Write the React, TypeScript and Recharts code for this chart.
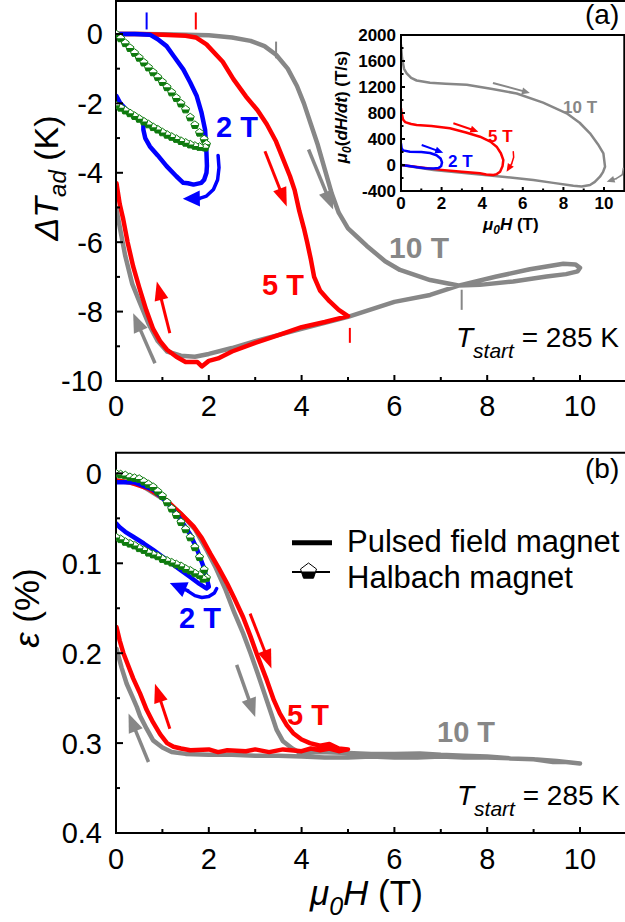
import React from "react";
import {
  ComposedChart,
  Line,
  Scatter,
  XAxis,
  YAxis,
  ReferenceLine,
  ReferenceArea,
} from "recharts";

const FONT = "'Liberation Sans', Arial, Helvetica, sans-serif";
const RED = "#ff0000";
const BLUE = "#0000ff";
const GRAY = "#878787";
const GREEN = "#0d7a0d";

// ---- axes ----
const FIELD_TICKS = [0, 1, 2, 3, 4, 5, 6, 7, 8, 9, 10];
const FIELD_LABELS = [0, 2, 4, 6, 8, 10];
const DT_TICKS = [-10, -9, -8, -7, -6, -5, -4, -3, -2, -1, 0];
const DT_LABELS = [-10, -8, -6, -4, -2, 0];
const STRAIN_TICKS = [0, 0.05, 0.1, 0.15, 0.2, 0.25, 0.3, 0.35, 0.4];
const STRAIN_LABELS = [0, 0.1, 0.2, 0.3, 0.4];
const RATE_TICKS = [-400, -200, 0, 200, 400, 600, 800, 1000, 1200, 1400, 1600, 1800, 2000];
const RATE_LABELS = [-400, 0, 400, 800, 1200, 1600, 2000];

// ---- panel (a): adiabatic temperature change, [field T, dT K] ----
const pulsed10A = [
  [0, 0], [0.5, 0], [1, -0.01], [1.5, -0.02], [2, -0.04], [2.5, -0.1], [2.9, -0.2],
  [3.2, -0.35], [3.45, -0.6], [3.7, -1.0], [3.9, -1.5], [4.05, -2.0], [4.2, -2.6],
  [4.35, -3.2], [4.5, -3.9], [4.65, -4.6], [4.8, -5.15], [5.0, -5.6], [5.2, -5.85],
  [5.4, -6.1], [5.8, -6.55], [6.12, -6.8], [6.77, -7.09], [7.38, -7.25], [7.84, -7.23],
  [8.56, -7.13], [9.28, -6.99], [9.7, -6.92], [9.95, -6.84], [10, -6.74], [9.9, -6.64],
  [9.64, -6.62], [8.92, -6.78], [8.2, -6.99], [7.38, -7.25], [6.77, -7.52], [6.0, -7.72],
  [5.0, -8.15], [4.0, -8.5], [3.0, -8.85], [2.5, -9.05], [2.0, -9.22], [1.7, -9.3],
  [1.4, -9.27], [1.1, -9.15], [0.9, -8.85], [0.7, -8.35], [0.5, -7.7], [0.35, -7.2],
  [0.2, -6.4], [0.1, -5.7], [0.03, -5.2], [0, -5.0],
];
const pulsed5A = [
  [0, 0], [0.5, 0], [1, -0.02], [1.5, -0.05], [1.72, -0.1], [1.95, -0.3], [2.3, -0.8],
  [2.53, -1.3], [2.8, -1.8], [3.05, -2.2], [3.25, -2.6], [3.45, -3.1], [3.6, -3.6],
  [3.75, -4.1], [3.85, -4.5], [3.95, -5.1], [4.05, -5.6], [4.12, -6.0], [4.2, -6.5],
  [4.27, -7.0], [4.4, -7.4], [4.6, -7.7], [4.8, -7.95], [5.0, -8.13], [4.5, -8.3],
  [4.0, -8.45], [3.5, -8.68], [3.0, -8.9], [2.5, -9.15], [2.2, -9.35], [2.0, -9.42],
  [1.85, -9.58], [1.75, -9.45], [1.5, -9.45], [1.3, -9.3], [1.1, -9.1], [0.95, -8.85],
  [0.8, -8.5], [0.65, -7.95], [0.5, -7.3], [0.37, -6.7], [0.25, -6.0], [0.15, -5.3],
  [0.08, -4.9], [0.01, -4.3],
];
const pulsed2A = [
  [0, 0], [0.4, 0], [0.73, -0.02], [0.9, -0.15], [1.09, -0.35], [1.25, -0.65],
  [1.45, -1.02], [1.6, -1.4], [1.74, -1.79], [1.84, -2.25], [1.92, -2.76], [1.95, -3.43],
  [1.96, -3.8], [1.95, -4.0], [1.9, -4.2], [1.84, -4.29], [1.67, -4.34], [1.55, -4.3],
  [1.45, -4.29], [1.3, -4.1], [1.09, -3.81], [0.9, -3.5], [0.73, -3.24], [0.63, -3.0],
  [0.59, -2.76], [0.59, -2.5], [0.45, -2.42], [0.37, -2.37], [0.2, -2.15], [0.09, -1.99],
  [0.01, -1.79],
];
const halbachA = [
  [0, 0], [0.1, -0.12], [0.2, -0.26], [0.3, -0.4], [0.4, -0.54], [0.5, -0.68], [0.6, -0.82],
  [0.7, -0.96], [0.8, -1.1], [0.9, -1.24], [1.0, -1.38], [1.1, -1.53], [1.2, -1.68],
  [1.3, -1.84], [1.4, -2.0], [1.5, -2.17], [1.6, -2.4], [1.7, -2.62], [1.8, -2.84],
  [1.9, -3.03], [1.95, -3.17], [1.92, -3.27], [1.8, -3.25], [1.7, -3.22], [1.6, -3.18],
  [1.5, -3.13], [1.4, -3.08], [1.3, -3.02], [1.2, -2.96], [1.1, -2.9], [1.0, -2.83],
  [0.9, -2.75], [0.8, -2.68], [0.7, -2.6], [0.6, -2.52], [0.5, -2.44], [0.4, -2.36],
  [0.3, -2.28], [0.2, -2.2], [0.1, -2.12], [0, -2.05],
];

// ---- panel (b): strain, [field T, strain %] ----
const pulsed10B = [
  [0, 0.008], [0.5, 0.012], [1.0, 0.028], [1.4, 0.045], [1.7, 0.062], [1.95, 0.085],
  [2.15, 0.105], [2.35, 0.128], [2.55, 0.155], [2.74, 0.178], [2.9, 0.2], [3.05, 0.222],
  [3.2, 0.245], [3.35, 0.268], [3.46, 0.285], [3.6, 0.298], [3.8, 0.306], [3.97, 0.311],
  [4.4, 0.31], [5, 0.311], [5.5, 0.312], [6, 0.312], [6.55, 0.3115], [7, 0.313],
  [7.5, 0.314], [8, 0.315], [8.5, 0.317], [9, 0.318], [9.42, 0.321], [9.7, 0.321],
  [10, 0.3226], [9.5, 0.32], [9, 0.318], [8.5, 0.317], [8, 0.316], [7.5, 0.316],
  [7, 0.315], [6.5, 0.316], [6, 0.316], [5.5, 0.315], [5, 0.316], [4.5, 0.316],
  [4, 0.315], [3.5, 0.314], [3, 0.314], [2.5, 0.313], [2, 0.313], [1.5, 0.312],
  [1.2, 0.31], [1.0, 0.305], [0.8, 0.297], [0.66, 0.284], [0.52, 0.27], [0.45, 0.26],
  [0.35, 0.248], [0.23, 0.234], [0.12, 0.216], [0.01, 0.195],
];
const pulsed5B = [
  [0, 0.008], [0.3, 0.01], [0.7, 0.017], [1.09, 0.03], [1.4, 0.045], [1.67, 0.059],
  [1.85, 0.072], [2.03, 0.089], [2.2, 0.104], [2.39, 0.122], [2.55, 0.139], [2.74, 0.16],
  [2.89, 0.18], [3.05, 0.203], [3.25, 0.23], [3.4, 0.252], [3.53, 0.267], [3.68, 0.28],
  [3.82, 0.289], [4.0, 0.296], [4.18, 0.3], [4.4, 0.303], [4.6, 0.301], [4.8, 0.306],
  [5.0, 0.307], [4.8, 0.309], [4.6, 0.306], [4.4, 0.308], [4.2, 0.306], [4.0, 0.309],
  [3.6, 0.307], [3.3, 0.31], [3.0, 0.307], [2.8, 0.309], [2.4, 0.308], [2.2, 0.31],
  [2.0, 0.307], [1.6, 0.308], [1.4, 0.306], [1.24, 0.304], [1.1, 0.3], [0.95, 0.29],
  [0.8, 0.277], [0.66, 0.263], [0.52, 0.245], [0.37, 0.228], [0.25, 0.212], [0.16, 0.2],
  [0.08, 0.186], [0.01, 0.171],
];
const pulsed2B = [
  [0, 0.01], [0.4, 0.01], [0.8, 0.018], [1.1, 0.032], [1.4, 0.052], [1.6, 0.068],
  [1.75, 0.085], [1.88, 0.103], [1.96, 0.118], [2.0, 0.126], [1.95, 0.128], [1.8, 0.123],
  [1.59, 0.115], [1.35, 0.106], [1.09, 0.096], [0.8, 0.085], [0.6, 0.078], [0.37, 0.0705],
  [0.2, 0.065], [0.08, 0.06], [0.01, 0.056],
];
const halbachB = [
  [0, 0.0], [0.1, 0.001], [0.2, 0.002], [0.3, 0.004], [0.4, 0.005], [0.5, 0.006],
  [0.6, 0.009], [0.7, 0.012], [0.8, 0.015], [0.9, 0.02], [1.0, 0.025], [1.1, 0.032],
  [1.2, 0.039], [1.3, 0.046], [1.4, 0.054], [1.5, 0.062], [1.6, 0.071], [1.7, 0.082],
  [1.8, 0.093], [1.9, 0.107], [1.95, 0.116], [1.88, 0.117], [1.8, 0.113], [1.7, 0.111],
  [1.6, 0.108], [1.5, 0.106], [1.4, 0.103], [1.3, 0.101], [1.2, 0.099], [1.1, 0.097],
  [1.0, 0.095], [0.9, 0.092], [0.8, 0.09], [0.7, 0.088], [0.6, 0.085], [0.5, 0.083],
  [0.4, 0.08], [0.3, 0.078], [0.2, 0.076], [0.1, 0.073], [0, 0.071],
];

// ---- inset: sweep rate, [field T, dH/dt T/s] ----
const rate10 = [
  [0, 1850], [0.05, 1650], [0.15, 1480], [0.28, 1411], [0.5, 1340], [0.77, 1300],
  [1.43, 1265], [2.2, 1250], [3.24, 1235], [4.5, 1170], [5.7, 1100], [7, 960],
  [8.16, 795], [8.8, 650], [9.31, 488], [9.7, 320], [9.97, 180], [10.05, -26],
  [9.95, -110], [9.8, -180], [9.55, -260], [9.31, -308], [8.9, -330], [8.49, -320],
  [7.5, -275], [6.52, -231], [5, -180], [3.24, -128], [1.6, -77], [0.8, -40], [0, 0],
];
const rate5 = [
  [0, 870], [0.03, 800], [0.1, 700], [0.2, 660], [0.5, 630], [0.77, 615], [1.5, 600],
  [2.41, 565], [3.2, 500], [3.89, 435], [4.4, 360], [4.71, 282], [4.92, 180], [5.04, 77],
  [5.0, -20], [4.88, -103], [4.72, -140], [4.55, -154], [4.2, -145], [3.89, -128],
  [3, -105], [2, -75], [1, -40], [0, 0],
];
const rate2 = [
  [0, 330], [0.03, 260], [0.1, 225], [0.44, 205], [1.0, 200], [1.43, 185], [1.75, 150],
  [1.95, 100], [2.02, 40], [1.98, -15], [1.85, -45], [1.6, -55], [1.2, -50], [0.8, -35],
  [0.4, -15], [0, 0],
];

// ---- annotations: arrows [x1, y1, x2, y2], curved arrow paths, field-end marks [x, yTop, yBottom] ----
const redArrowsA = [[3.21, -3.38, 3.68, -4.97], [1.16, -8.62, 0.88, -7.13]];
const grayArrowsA = [[4.15, -3.33, 4.68, -5.06], [0.84, -9.49, 0.37, -8.05]];
const blueArcA = [[2.2, -3.5], [2.22, -3.85], [2.19, -4.2], [2.1, -4.48], [1.95, -4.67], [1.8, -4.74]];
const blueArcHeadA = [[1.82, -4.74, 1.44, -4.75]];
const blueMarksA = [[0.66, 0.62, 0.13]];
const redMarksA = [[1.72, 0.62, 0.13], [5.04, -8.47, -8.9]];
const grayMarksA = [[3.45, -0.22, -0.7], [7.45, -7.37, -7.95]];

const redArrowsB = [[2.89, 0.156, 3.35, 0.217], [1.16, 0.284, 0.84, 0.234]];
const grayArrowsB = [[2.6, 0.213, 3.0, 0.271], [0.7, 0.321, 0.27, 0.267]];
const blueArcB = [[2.17, 0.128], [2.12, 0.133], [2.0, 0.137], [1.85, 0.138], [1.7, 0.136], [1.55, 0.131]];
const blueArcHeadB = [[1.57, 0.131, 1.16, 0.122]];

const grayArrowsI = [[4.53, 1262, 6.35, 1108]];
const redArrowsI = [[2.58, 642, 3.81, 512]];
const blueArrowsI = [[1.02, 308, 2.08, 189]];
const redArcI = [[5.53, 205], [5.55, 120], [5.45, 20]];
const redArcHeadI = [[5.46, 25, 5.2, -103]];
const grayArcI = [[10.95, -52], [10.9, -150], [10.6, -210]];
const grayArcHeadI = [[10.62, -208, 10.13, -257]];

const toPts = (rows: number[][]) => rows.map(([x, y]) => ({ x, y }));

function fmtTick(v: number, decimals = 0) {
  if (Math.abs(v) < 1e-9) return "0";
  return decimals ? v.toFixed(decimals) : String(v);
}

// Inward tick marks with labels only on the major values.
function bottomTick(labels: number[], major: number, minor: number, size: number, dy: number, bold = false) {
  return (props: any) => {
    const { x, y, payload } = props;
    const v = payload.value;
    const isMajor = labels.some((l) => Math.abs(l - v) < 1e-9);
    return (
      <g>
        <line x1={x} x2={x} y1={y} y2={y - (isMajor ? major : minor)} stroke="#000" strokeWidth={2} />
        {isMajor && (
          <text x={x} y={y + dy} textAnchor="middle" fontSize={size} fontWeight={bold ? 700 : 400} fontFamily={FONT} fill="#000">
            {fmtTick(v)}
          </text>
        )}
      </g>
    );
  };
}

function leftTick(labels: number[], major: number, minor: number, size: number, dx: number, decimals = 0, bold = false) {
  return (props: any) => {
    const { x, y, payload } = props;
    const v = payload.value;
    const isMajor = labels.some((l) => Math.abs(l - v) < 1e-9);
    return (
      <g>
        <line x1={x} x2={x + (isMajor ? major : minor)} y1={y} y2={y} stroke="#000" strokeWidth={2} />
        {isMajor && (
          <text x={x - dx} y={y} dy="0.36em" textAnchor="end" fontSize={size} fontWeight={bold ? 700 : 400} fontFamily={FONT} fill="#000">
            {fmtTick(v, decimals)}
          </text>
        )}
      </g>
    );
  };
}

function arrowShape(color: string, shaft: number, headLen: number, headHalf: number) {
  return (p: any) => {
    const { x1, y1, x2, y2 } = p;
    const dx = x2 - x1;
    const dy = y2 - y1;
    const len = Math.hypot(dx, dy) || 1;
    const ux = dx / len;
    const uy = dy / len;
    const bx = x2 - ux * headLen;
    const by = y2 - uy * headLen;
    const px = -uy * headHalf;
    const py = ux * headHalf;
    return (
      <g>
        {len > headLen && <line x1={x1} y1={y1} x2={bx + ux} y2={by + uy} stroke={color} strokeWidth={shaft} />}
        <polygon points={`${x2},${y2} ${bx + px},${by + py} ${bx - px},${by - py}`} fill={color} />
      </g>
    );
  };
}

function halbachShape(s: number, color: string) {
  return (p: any) => {
    const { cx, cy } = p;
    if (cx == null || cy == null) return <g />;
    const outline = [[0, -s], [s, -0.25 * s], [0.62 * s, 0.9 * s], [-0.62 * s, 0.9 * s], [-s, -0.25 * s]];
    const lower = [[-0.93 * s, 0.05 * s], [0.93 * s, 0.05 * s], [0.62 * s, 0.9 * s], [-0.62 * s, 0.9 * s]];
    const str = (pts: number[][]) => pts.map(([a, b]) => `${cx + a},${cy + b}`).join(" ");
    return (
      <g>
        <polygon points={str(outline)} fill="#fff" stroke={color} strokeWidth={1} />
        <polygon points={str(lower)} fill={color} />
      </g>
    );
  };
}

function arrows(rows: number[][], color: string, shaft: number, headLen: number, headHalf: number, key: string) {
  return rows.map(([x1, y1, x2, y2], i) => (
    <ReferenceLine
      key={`${key}${i}`}
      segment={[{ x: x1, y: y1 }, { x: x2, y: y2 }]}
      stroke={color}
      ifOverflow="visible"
      shape={arrowShape(color, shaft, headLen, headHalf)}
    />
  ));
}

function marks(rows: number[][], color: string, key: string) {
  return rows.map(([x, y1, y2], i) => (
    <ReferenceLine
      key={`${key}${i}`}
      segment={[{ x, y: y1 }, { x, y: y2 }]}
      stroke={color}
      strokeWidth={2}
      ifOverflow="visible"
    />
  ));
}

function curve(rows: number[][], color: string, width: number, key: string) {
  return (
    <Line
      key={key}
      data={toPts(rows)}
      dataKey="y"
      type="linear"
      stroke={color}
      strokeWidth={width}
      strokeLinejoin="round"
      strokeLinecap="round"
      dot={false}
      activeDot={false}
      isAnimationActive={false}
    />
  );
}

function PanelA() {
  return (
    <ComposedChart width={640} height={430} margin={{ top: 1, right: 13.6, bottom: 9, left: 16 }}>
      <XAxis
        type="number"
        dataKey="x"
        domain={[0, 11]}
        ticks={FIELD_TICKS}
        interval={0}
        allowDataOverflow
        height={40}
        tickSize={0}
        tickMargin={0}
        tickLine={false}
        axisLine={{ stroke: "#000", strokeWidth: 2 }}
        tick={bottomTick(FIELD_LABELS, 6, 4, 29, 35)}
      />
      <YAxis
        type="number"
        domain={[-10, 0.95]}
        ticks={DT_TICKS}
        interval={0}
        allowDataOverflow
        width={100}
        tickSize={0}
        tickMargin={0}
        tickLine={false}
        axisLine={{ stroke: "#000", strokeWidth: 2 }}
        tick={leftTick(DT_LABELS, 7, 4, 29, 13)}
      />
      <ReferenceArea x1={0} x2={11} y1={-10} y2={0.95} fill="none" stroke="#000" strokeWidth={2} ifOverflow="visible" />
      {curve(pulsed10A, GRAY, 4.5, "g10")}
      {curve(pulsed5A, RED, 4.5, "r5")}
      {curve(pulsed2A, BLUE, 4.5, "b2")}
      <Scatter data={toPts(halbachA)} dataKey="y" shape={halbachShape(4, GREEN)} isAnimationActive={false} />
      {curve(blueArcA, BLUE, 3.5, "barc")}
      {arrows(blueArcHeadA, BLUE, 3.5, 17, 8, "bh")}
      {arrows(redArrowsA, RED, 3, 19, 7, "ra")}
      {arrows(grayArrowsA, GRAY, 3.5, 19, 7.5, "ga")}
      {marks(blueMarksA, BLUE, "bm")}
      {marks(redMarksA, RED, "rm")}
      {marks(grayMarksA, GRAY, "gm")}
    </ComposedChart>
  );
}

function PanelB() {
  return (
    <ComposedChart width={640} height={460} margin={{ top: 12.7, right: 13.6, bottom: 27, left: 16 }}>
      <XAxis
        type="number"
        dataKey="x"
        domain={[0, 11]}
        ticks={FIELD_TICKS}
        interval={0}
        allowDataOverflow
        height={40}
        tickSize={0}
        tickMargin={0}
        tickLine={false}
        axisLine={{ stroke: "#000", strokeWidth: 2 }}
        tick={bottomTick(FIELD_LABELS, 6, 4, 29, 36)}
      />
      <YAxis
        type="number"
        reversed
        domain={[-0.023, 0.4]}
        ticks={STRAIN_TICKS}
        interval={0}
        allowDataOverflow
        width={100}
        tickSize={0}
        tickMargin={0}
        tickLine={false}
        axisLine={{ stroke: "#000", strokeWidth: 2 }}
        tick={leftTick(STRAIN_LABELS, 7, 4, 29, 14, 1)}
      />
      <ReferenceArea x1={0} x2={11} y1={-0.023} y2={0.4} fill="none" stroke="#000" strokeWidth={2} ifOverflow="visible" />
      {curve(pulsed10B, GRAY, 4.5, "g10")}
      {curve(pulsed5B, RED, 4.5, "r5")}
      {curve(pulsed2B, BLUE, 4.5, "b2")}
      <Scatter data={toPts(halbachB)} dataKey="y" shape={halbachShape(4, GREEN)} isAnimationActive={false} />
      {curve(blueArcB, BLUE, 3.5, "barc")}
      {arrows(blueArcHeadB, BLUE, 3.5, 17, 8, "bh")}
      {arrows(redArrowsB, RED, 3, 19, 7, "ra")}
      {arrows(grayArrowsB, GRAY, 3.5, 19, 7.5, "ga")}
    </ComposedChart>
  );
}

function Inset() {
  return (
    <ComposedChart width={300} height={220} margin={{ top: 15, right: 15.7, bottom: 19, left: 11 }}>
      <XAxis
        type="number"
        dataKey="x"
        domain={[0, 11]}
        ticks={FIELD_TICKS}
        interval={0}
        allowDataOverflow
        height={30}
        tickSize={0}
        tickMargin={0}
        tickLine={false}
        axisLine={{ stroke: "#000", strokeWidth: 2 }}
        tick={bottomTick(FIELD_LABELS, 4, 2.5, 17, 18, true)}
      />
      <YAxis
        type="number"
        domain={[-400, 2000]}
        ticks={RATE_TICKS}
        interval={0}
        allowDataOverflow
        width={50}
        tickSize={0}
        tickMargin={0}
        tickLine={false}
        axisLine={{ stroke: "#000", strokeWidth: 2 }}
        tick={leftTick(RATE_LABELS, 4, 2.5, 17, 5, 0, true)}
      />
      <ReferenceArea x1={0} x2={11} y1={-400} y2={2000} fill="none" stroke="#000" strokeWidth={2} ifOverflow="visible" />
      {curve(rate10, GRAY, 2.5, "g10")}
      {curve(rate5, RED, 2.5, "r5")}
      {curve(rate2, BLUE, 2.5, "b2")}
      {curve(redArcI, RED, 1.5, "rarc")}
      {curve(grayArcI, GRAY, 1.5, "garc")}
      {arrows(redArcHeadI, RED, 1.5, 8, 3.5, "rah")}
      {arrows(grayArcHeadI, GRAY, 1.5, 8, 3.5, "gah")}
      {arrows(grayArrowsI, GRAY, 2, 8, 3.5, "gi")}
      {arrows(redArrowsI, RED, 2, 8, 3.5, "ri")}
      {arrows(blueArrowsI, BLUE, 2, 8, 3.5, "bi")}
    </ComposedChart>
  );
}

function TStart({ x, y }: { x: number; y: number }) {
  return (
    <text x={x} y={y} fontSize={28} fontFamily={FONT} fill="#000">
      <tspan fontStyle="italic">T</tspan>
      <tspan fontStyle="italic" fontSize={21} dy={11}>start</tspan>
      <tspan dy={-11}> = 285 K</tspan>
    </text>
  );
}

function Overlay() {
  const bold = { fontFamily: FONT, fontWeight: 700 } as const;
  return (
    <svg width={625} height={922} style={{ position: "absolute", left: 0, top: 0, pointerEvents: "none" }}>
      {/* panel (a) */}
      <text transform="translate(58,178) rotate(-90)" textAnchor="middle" fontSize={34} fontFamily={FONT} fill="#000">
        <tspan fontStyle="italic">ΔT</tspan>
        <tspan fontStyle="italic" fontSize={24} dy={8}>ad</tspan>
        <tspan dy={-8}> (K)</tspan>
      </text>
      <text x={585} y={24} fontSize={28} fontFamily={FONT} fill="#000">(a)</text>
      <text x={216} y={137} fontSize={29} fill={BLUE} {...bold}>2 T</text>
      <text x={262} y={295} fontSize={29} fill={RED} {...bold}>5 T</text>
      <text x={389} y={258} fontSize={30} fill={GRAY} {...bold}>10 T</text>
      <TStart x={456} y={347} />

      {/* inset labels */}
      <text transform="translate(347,107) rotate(-90)" textAnchor="middle" fontSize={17} fill="#000" {...bold}>
        <tspan fontStyle="italic">μ</tspan>
        <tspan fontStyle="italic" fontSize={12} dy={4}>0</tspan>
        <tspan dy={-4}>(</tspan>
        <tspan fontStyle="italic">dH/dt</tspan>
        <tspan>) (T/s)</tspan>
      </text>
      <text x={483} y={230} fontSize={17} fill="#000" {...bold}>
        <tspan fontStyle="italic">μ</tspan>
        <tspan fontStyle="italic" fontSize={12} dy={4}>0</tspan>
        <tspan fontStyle="italic" dy={-4}>H</tspan>
        <tspan> (T)</tspan>
      </text>
      <text x={448} y={167} fontSize={17} fill={BLUE} {...bold}>2 T</text>
      <text x={488} y={142} fontSize={17} fill={RED} {...bold}>5 T</text>
      <text x={563} y={113} fontSize={17} fill={GRAY} {...bold}>10 T</text>

      {/* panel (b) */}
      <text transform="translate(39,608) rotate(-90)" textAnchor="middle" fontSize={35} fontFamily={FONT} fill="#000">
        <tspan fontStyle="italic">ε</tspan>
        <tspan> (%)</tspan>
      </text>
      <text x={310} y={905} fontSize={35} fontFamily={FONT} fill="#000">
        <tspan fontStyle="italic">μ</tspan>
        <tspan fontStyle="italic" fontSize={25} dy={10}>0</tspan>
        <tspan fontStyle="italic" dy={-10}>H</tspan>
        <tspan> (T)</tspan>
      </text>
      <text x={585} y={478} fontSize={28} fontFamily={FONT} fill="#000">(b)</text>
      <text x={179} y={628} fontSize={29} fill={BLUE} {...bold}>2 T</text>
      <text x={287} y={725} fontSize={29} fill={RED} {...bold}>5 T</text>
      <text x={437} y={742} fontSize={29} fill={GRAY} {...bold}>10 T</text>
      <TStart x={457} y={805} />

      {/* legend */}
      <line x1={292} x2={332} y1={542.7} y2={542.7} stroke="#000" strokeWidth={5} />
      <text x={347} y={552} fontSize={31} fontFamily={FONT} fill="#000">Pulsed field magnet</text>
      <line x1={292} x2={330} y1={572} y2={572} stroke="#000" strokeWidth={2} />
      {halbachShape(8, "#000")({ cx: 308.5, cy: 571 })}
      <text x={347} y={588} fontSize={31} fontFamily={FONT} fill="#000">Halbach magnet</text>
    </svg>
  );
}

export default function App() {
  return (
    <div
      style={{
        position: "absolute",
        left: 0,
        top: 0,
        width: 625,
        height: 922,
        overflow: "hidden",
        background: "#fff",
        fontFamily: FONT,
      }}
    >
      <div style={{ position: "absolute", left: 0, top: 0 }}>
        <PanelA />
      </div>
      <div style={{ position: "absolute", left: 0, top: 440 }}>
        <PanelB />
      </div>
      <div style={{ position: "absolute", left: 340, top: 20 }}>
        <Inset />
      </div>
      <Overlay />
    </div>
  );
}
